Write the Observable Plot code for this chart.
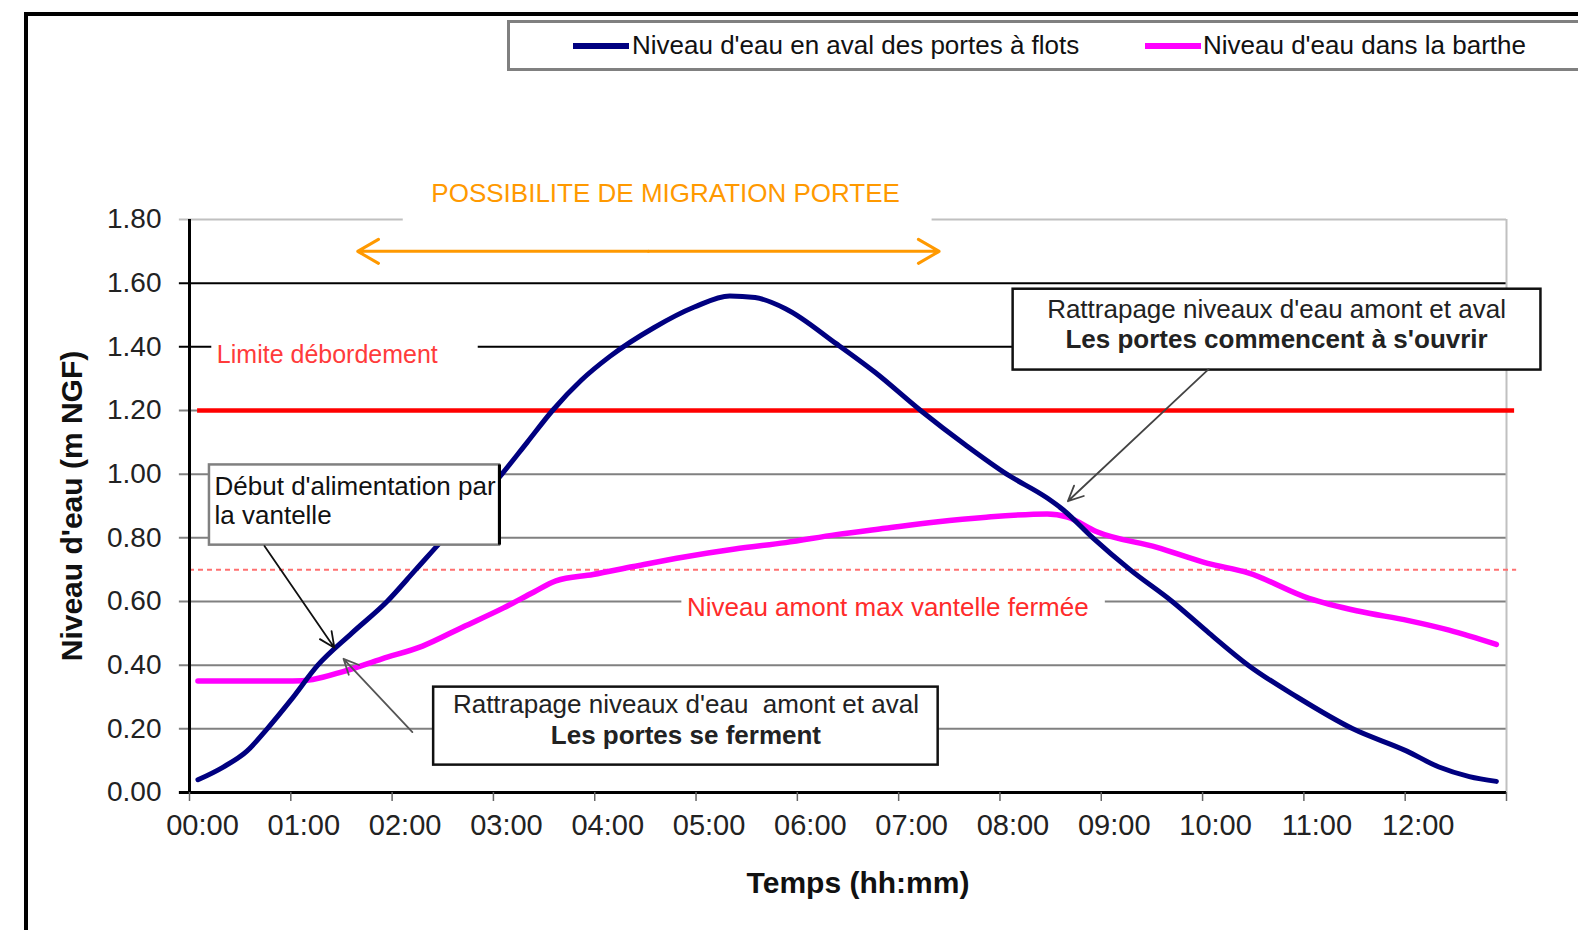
<!DOCTYPE html>
<html>
<head>
<meta charset="utf-8">
<script src="https://cdn.jsdelivr.net/npm/d3@7"></script>
<script src="https://cdn.jsdelivr.net/npm/@observablehq/plot@0.6"></script>
<style>
  html, body { margin: 0; padding: 0; background: white; overflow: hidden; }
  #wrap { position: relative; width: 1578px; height: 930px; overflow: hidden; font-family: "Liberation Sans", Arial, sans-serif; }
  #frame { position: absolute; left: 24px; top: 12px; width: 1700px; height: 1100px; border: 4px solid #000; box-sizing: border-box; pointer-events: none; }
  #legend { position: absolute; left: 507px; top: 20px; width: 1200px; height: 51px; border: 3px solid #808080; box-sizing: border-box; background: white; }
  .sw { position: absolute; height: 6px; top: 20px; }
  .lt { position: absolute; top: 7px; font-size: 26px; line-height: 30px; color: #111; white-space: nowrap; }
  #chart { position: absolute; left: 0; top: 0; }
</style>
</head>
<body>
<div id="wrap">
  <div id="chart"></div>
  <div id="frame"></div>
  <div id="legend"></div>
</div>
<script>
// ---- Data ----
const yTicks = [0, 0.2, 0.4, 0.6, 0.8, 1.0, 1.2, 1.4, 1.6, 1.8];
const yTickLabels = ["0.00", "0.20", "0.40", "0.60", "0.80", "1.00", "1.20", "1.40", "1.60", "1.80"];
const hourTicks = [0, 1, 2, 3, 4, 5, 6, 7, 8, 9, 10, 11, 12, 13];
const hourLabels = ["00:00", "01:00", "02:00", "03:00", "04:00", "05:00", "06:00", "07:00", "08:00", "09:00", "10:00", "11:00", "12:00"];

const seriesNames = ["Niveau d'eau en aval des portes à flots", "Niveau d'eau dans la barthe"];
const seriesColors = ["#000080", "#ff00ff"];

const blueTimes = ["00:05", "00:20", "00:34", "00:46", "01:00", "01:16", "01:36", "01:57", "02:14", "02:31", "02:49", "03:05", "03:20", "03:35", "03:52", "04:09", "04:35", "04:59", "05:20", "05:35", "05:53", "06:23", "06:46", "07:13", "07:40", "08:04", "08:28", "08:37", "08:55", "09:17", "09:42", "10:04", "10:27", "10:56", "11:29", "12:01", "12:20", "12:38", "12:54"];
const blueValues = [0.04, 0.08, 0.13, 0.20, 0.29, 0.40, 0.50, 0.60, 0.70, 0.80, 0.90, 1.00, 1.10, 1.20, 1.295, 1.37, 1.46, 1.525, 1.56, 1.555, 1.52, 1.41, 1.32, 1.20, 1.09, 1.00, 0.925, 0.89, 0.80, 0.70, 0.60, 0.50, 0.40, 0.30, 0.20, 0.13, 0.08, 0.05, 0.035];

const pinkTimes = ["00:05", "01:01", "01:13", "01:31", "01:54", "02:18", "02:42", "03:06", "03:24", "03:37", "03:59", "04:23", "04:53", "05:23", "05:53", "06:23", "06:52", "07:22", "07:52", "08:28", "08:40", "08:57", "09:33", "10:03", "10:27", "11:03", "11:32", "12:02", "12:26", "12:54"];
const pinkValues = [0.35, 0.35, 0.355, 0.38, 0.42, 0.46, 0.52, 0.58, 0.63, 0.665, 0.685, 0.71, 0.74, 0.765, 0.785, 0.81, 0.83, 0.85, 0.865, 0.875, 0.865, 0.82, 0.77, 0.72, 0.69, 0.61, 0.57, 0.54, 0.51, 0.465];

const overflowLevel = 1.20;   // Limite débordement
const closedGateLevel = 0.70; // Niveau amont max vantelle fermée

// annotation layout in data units (hours, m NGF)
const migrationSpan = {x1: 1.66, x2: 7.40, y: 1.70};
const whiteouts = [
  {x1: 2.11, x2: 7.33, y1: 1.76, y2: 1.95},
  {x1: 0.22, x2: 2.85, y1: 1.33, y2: 1.45},
  {x1: 4.86, x2: 9.04, y1: 0.54, y2: 0.635}
];
const boxes = [
  {x1: 0.197, x2: 3.06, y1: 0.777, y2: 1.029, stroke: "#808080"},
  {x1: 2.41, x2: 7.39, y1: 0.086, y2: 0.331, stroke: "#111"},
  {x1: 8.13, x2: 13.34, y1: 1.327, y2: 1.581, stroke: "#111"}
];
const pointers = [
  {x1: 0.74, y1: 0.774, x2: 1.43, y2: 0.455, stroke: "#111"},
  {x1: 2.20, y1: 0.19, x2: 1.52, y2: 0.42, stroke: "#555"},
  {x1: 10.06, y1: 1.33, x2: 8.67, y2: 0.915, stroke: "#444"}
];

// ---- Build ----
function toHours(s) { const [h, m] = s.split(":").map(Number); return h + m / 60; }
const blue = blueTimes.map((t, i) => ({t: toHours(t), v: blueValues[i]}));
const pink = pinkTimes.map((t, i) => ({t: toHours(t), v: pinkValues[i]}));
const FONT = "'Liberation Sans', Arial, sans-serif";
const midX = (migrationSpan.x1 + migrationSpan.x2) / 2;

const chart = Plot.plot({
  width: 1578,
  height: 930,
  marginLeft: 189,
  marginRight: 72,
  marginTop: 219,
  marginBottom: 138,
  x: {domain: [0, 13], axis: null},
  y: {domain: [0, 1.8], axis: null},
  style: {fontFamily: FONT, background: "none", overflow: "visible"},
  marks: [
    // gridlines
    Plot.ruleY(yTicks.filter(v => v > 0 && v < 1.4), {y: d => d, x1: -0.1, x2: 13, stroke: "#808080", strokeWidth: 2}),
    Plot.ruleY(yTicks.filter(v => v >= 1.4 && v < 1.7), {y: d => d, x1: -0.1, x2: 13, stroke: "#000", strokeWidth: 2}),
    Plot.ruleY(yTicks.filter(v => v > 1.7), {y: d => d, x1: -0.1, x2: 13, stroke: "#c0c0c0", strokeWidth: 2}),
    Plot.ruleX([13], {y1: 0, y2: 1.8, stroke: "#c0c0c0", strokeWidth: 2}),
    // white label backgrounds
    Plot.rect(whiteouts, {x1: "x1", x2: "x2", y1: "y1", y2: "y2", fill: "white"}),
    // reference levels
    Plot.ruleY([closedGateLevel], {y: d => d, x1: 0, x2: 13.1, stroke: "#ff7070", strokeWidth: 2, strokeDasharray: "5,4"}),
    Plot.ruleY([overflowLevel], {y: d => d, x1: 0.08, x2: 13.08, stroke: "#ff0000", strokeWidth: 4.5}),
    // axes lines
    Plot.ruleX([0], {y1: 0, y2: 1.8, stroke: "#000", strokeWidth: 3}),
    Plot.ruleY([0], {x1: -0.1, x2: 13, stroke: "#000", strokeWidth: 3}),
    Plot.axisX(hourTicks, {anchor: "bottom", tickSize: 9, tickFormat: () => "", stroke: "#666", strokeWidth: 1.5}),
    Plot.text(hourLabels, {x: (d, i) => hourTicks[i], text: d => d, frameAnchor: "bottom", dx: 13, dy: 42, fontSize: 29, fill: "#222"}),
    Plot.text(yTicks, {y: d => d, text: (d, i) => yTickLabels[i], frameAnchor: "left", dx: -28, textAnchor: "end", fontSize: 28, fill: "#222"}),
    // series
    Plot.line(pink, {x: "t", y: "v", stroke: seriesColors[1], strokeWidth: 5.5, curve: "monotone-x"}),
    Plot.line(blue, {x: "t", y: "v", stroke: seriesColors[0], strokeWidth: 5, curve: "monotone-x"}),
    // annotation boxes
    Plot.rect(boxes, {x1: "x1", x2: "x2", y1: "y1", y2: "y2", fill: "white", stroke: "stroke", strokeWidth: 2.5}),
    Plot.ruleX([boxes[0]], {x: "x2", y1: "y1", y2: "y2", stroke: "#000", strokeWidth: 3}),
    Plot.text(["Début d'alimentation par"], {x: 0.247, y: 0.962, text: d => d, textAnchor: "start", fontSize: 26, fill: "#111"}),
    Plot.text(["la vantelle"], {x: 0.247, y: 0.871, text: d => d, textAnchor: "start", fontSize: 26, fill: "#111"}),
    Plot.text(["Rattrapage niveaux d'eau  amont et aval"], {x: 4.90, y: 0.277, text: d => d, fontSize: 26, fill: "#222"}),
    Plot.text(["Les portes se ferment"], {x: 4.90, y: 0.180, text: d => d, fontSize: 26, fontWeight: "bold", fill: "#222"}),
    Plot.text(["Rattrapage niveaux d'eau amont et aval"], {x: 10.73, y: 1.518, text: d => d, fontSize: 26, fill: "#222"}),
    Plot.text(["Les portes commencent à s'ouvrir"], {x: 10.73, y: 1.423, text: d => d, fontSize: 26, fontWeight: "bold", fill: "#222"}),
    // pointers
    Plot.arrow(pointers, {x1: "x1", y1: "y1", x2: "x2", y2: "y2", stroke: "stroke", strokeWidth: 1.8, headLength: 14, headAngle: 50}),
    // labels
    Plot.text(["Limite débordement"], {x: 0.27, y: 1.373, text: d => d, textAnchor: "start", fontSize: 25, fill: "#ff3b3b"}),
    Plot.text(["Niveau amont max vantelle fermée"], {x: 4.91, y: 0.582, text: d => d, textAnchor: "start", fontSize: 26, fill: "#ff2b2b"}),
    Plot.text(["POSSIBILITE DE MIGRATION PORTEE"], {x: 4.70, y: 1.88, text: d => d, fontSize: 26, fill: "#ff9900"}),
    Plot.arrow([migrationSpan], {x1: midX, y1: "y", x2: "x1", y2: "y", stroke: "#ff9900", strokeWidth: 3, headLength: 12, headAngle: 60}),
    Plot.arrow([migrationSpan], {x1: midX, y1: "y", x2: "x2", y2: "y", stroke: "#ff9900", strokeWidth: 3, headLength: 12, headAngle: 60}),
    // axis titles
    Plot.text(["Temps (hh:mm)"], {text: d => d, frameAnchor: "bottom", dx: 10, dy: 100, fontSize: 30, fontWeight: "bold", fill: "#111"}),
    Plot.text(["Niveau d'eau (m NGF)"], {x: -1.155, y: 0.9, text: d => d, rotate: -90, fontSize: 30, fontWeight: "bold", fill: "#111"})
  ]
});
document.getElementById("chart").appendChild(chart);

// legend
const legend = document.getElementById("legend");
const legendPos = [{sw: 63, txt: 122}, {sw: 635, txt: 693}];
seriesNames.forEach((name, i) => {
  const sw = document.createElement("div");
  sw.className = "sw";
  sw.style.left = legendPos[i].sw + "px";
  sw.style.width = "56px";
  sw.style.background = seriesColors[i];
  legend.appendChild(sw);
  const t = document.createElement("div");
  t.className = "lt";
  t.style.left = legendPos[i].txt + "px";
  t.textContent = name;
  legend.appendChild(t);
});
</script>
</body>
</html>
